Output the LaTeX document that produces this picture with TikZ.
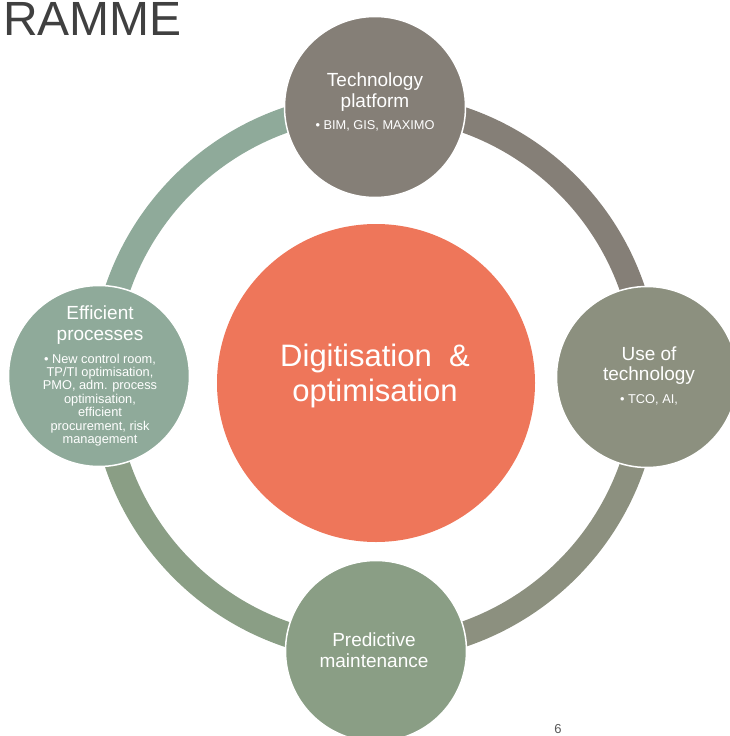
\documentclass[tikz,border=0pt]{standalone}
\usepackage{fontspec}
\setmainfont{Liberation Sans}
\definecolor{cCentre}{HTML}{EE765A}
\definecolor{cTop}{HTML}{857F77}
\definecolor{cRight}{HTML}{8C907F}
\definecolor{cBottom}{HTML}{8A9E85}
\definecolor{cLeft}{HTML}{8FAA9A}
\definecolor{cTitle}{HTML}{404040}
\definecolor{cNum}{HTML}{595959}
\begin{document}
\begin{tikzpicture}[x=1pt,y=-1pt,
  ttl/.style={text=white,align=center,font=\fontsize{19}{20.5}\selectfont,inner sep=0pt},
  bul/.style={text=white,align=center,font=\fontsize{12.8}{13.4}\selectfont,inner sep=0pt},
  bub/.style={circle,draw=white,line width=1.5pt,minimum size=181pt,inner sep=0pt},
  seg/.style={line width=25pt}]
\useasboundingbox (0,0) rectangle (729,736);
\coordinate (o) at (375,377);
% ring segments
\draw[seg,cLeft]   ([shift={(180:272)}]o) arc[start angle=180,end angle=270,radius=272];
\draw[seg,cTop]    ([shift={(270:272)}]o) arc[start angle=270,end angle=360,radius=272];
\draw[seg,cRight]  ([shift={(0:272)}]o)   arc[start angle=0,end angle=90,radius=272];
\draw[seg,cBottom] ([shift={(90:272)}]o)  arc[start angle=90,end angle=180,radius=272];
% circles
\node[bub,fill=cTop]    (top)    at (375,107) {};
\node[bub,fill=cRight]  (right)  at (647,377) {};
\node[bub,fill=cBottom] (bottom) at (376,651) {};
\node[bub,fill=cLeft]   (left)   at (99,376) {};
\node[circle,fill=cCentre,minimum size=318pt,inner sep=0pt] (centre) at (376,383) {};
% texts
\node[ttl] (topT) at (375,92) {Technology\\platform};
\node[bul] (topB) at (375,126) {• BIM, GIS, MAXIMO};
\node[ttl] (rightT) at (649,365.5) {Use of\\technology};
\node[bul] (rightB) at (649,400) {• TCO, AI,};
\node[ttl] (bottomT) at (374,650) {Predictive\\maintenance};
\node[ttl] (leftT) at (100,325) {Efficient\\processes};
\node[bul] (leftB) at (100,400) {• New control room,\\TP/TI optimisation,\\PMO, adm. process\\optimisation,\\efficient\\procurement, risk\\management};
\node[text=white,align=center,font=\fontsize{31}{34.5}\selectfont,inner sep=0pt] (centreT) at (375,376) {Digitisation~~\&\\optimisation};
\node[text=cTitle,anchor=base west,font=\fontsize{48}{48}\selectfont,inner sep=0pt] (title) at (3,35) {RAMME};
\node[text=cNum,font=\fontsize{13}{13}\selectfont,inner sep=0pt] (num) at (558,729) {6};
\end{tikzpicture}
\end{document}
